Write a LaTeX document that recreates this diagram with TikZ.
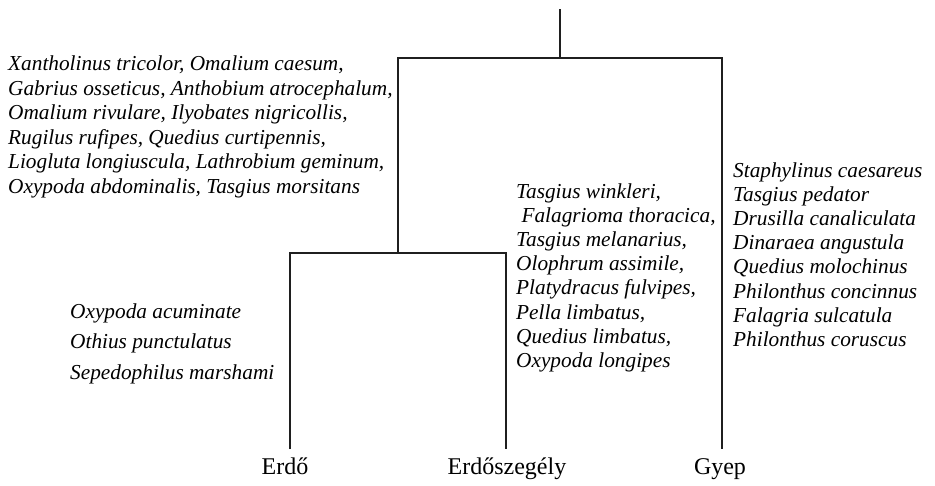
\documentclass[tikz,border=0pt]{standalone}
\usepackage{fontspec}
\setmainfont{Liberation Serif}
\begin{document}
\begin{tikzpicture}[x=1pt,y=-1pt,
  branch/.style={line width=2pt,draw=black!88},
  sp/.style={anchor=base west,inner sep=0pt,font=\fontsize{21.3}{24.5}\selectfont\itshape},
  site/.style={anchor=base,inner sep=0pt,font=\fontsize{24}{28}\selectfont}]
\useasboundingbox (0,0) rectangle (935,485);
% tree coordinates
\coordinate (top) at (560,9);
\coordinate (root) at (560,58);
\coordinate (lj) at (398,58);
\coordinate (rj) at (722,58);
\coordinate (ljb) at (398,253);
\coordinate (ej) at (290,253);
\coordinate (sj) at (506,253);
\coordinate (eb) at (290,449);
\coordinate (sb) at (506,449);
\coordinate (gb) at (722,449);
\draw[branch] (top) -- (root);
\draw[branch] (eb) -- (ej) -- (sj) -- (sb);
\draw[branch] (ljb) -- (lj) -- (rj) -- (gb);
% site labels
\node[site] (erdo) at (285,474) {Erdő};
\node[site] (szegely) at (507,474) {Erdőszegély};
\node[site] (gyep) at (720,474) {Gyep};
% upper left species
\foreach \t [count=\i] in {{Xantholinus tricolor, Omalium caesum,},{Gabrius osseticus, Anthobium atrocephalum,},{Omalium rivulare, Ilyobates nigricollis,},{Rugilus rufipes, Quedius curtipennis,},{Liogluta longiuscula, Lathrobium geminum,},{Oxypoda abdominalis, Tasgius morsitans}}
  \node[sp] (ul\i) at (8,{70.5+24.5*(\i-1)}) {\t};
% lower left species
\foreach \t [count=\i] in {{Oxypoda acuminate},{Othius punctulatus},{Sepedophilus marshami}}
  \node[sp] (ll\i) at (70,{318+30.5*(\i-1)}) {\t};
% middle species
\foreach \t [count=\i] in {{Tasgius winkleri,},{\ Falagrioma thoracica,},{Tasgius melanarius,},{Olophrum assimile,},{Platydracus fulvipes,},{Pella limbatus,},{Quedius limbatus,},{Oxypoda longipes}}
  \node[sp] (m\i) at (516,{198+24.2*(\i-1)}) {\t};
% right species
\foreach \t [count=\i] in {{Staphylinus caesareus},{Tasgius pedator},{Drusilla canaliculata},{Dinaraea angustula},{Quedius molochinus},{Philonthus concinnus},{Falagria sulcatula},{Philonthus coruscus}}
  \node[sp] (r\i) at (733,{177+24.2*(\i-1)}) {\t};
\end{tikzpicture}
\end{document}
